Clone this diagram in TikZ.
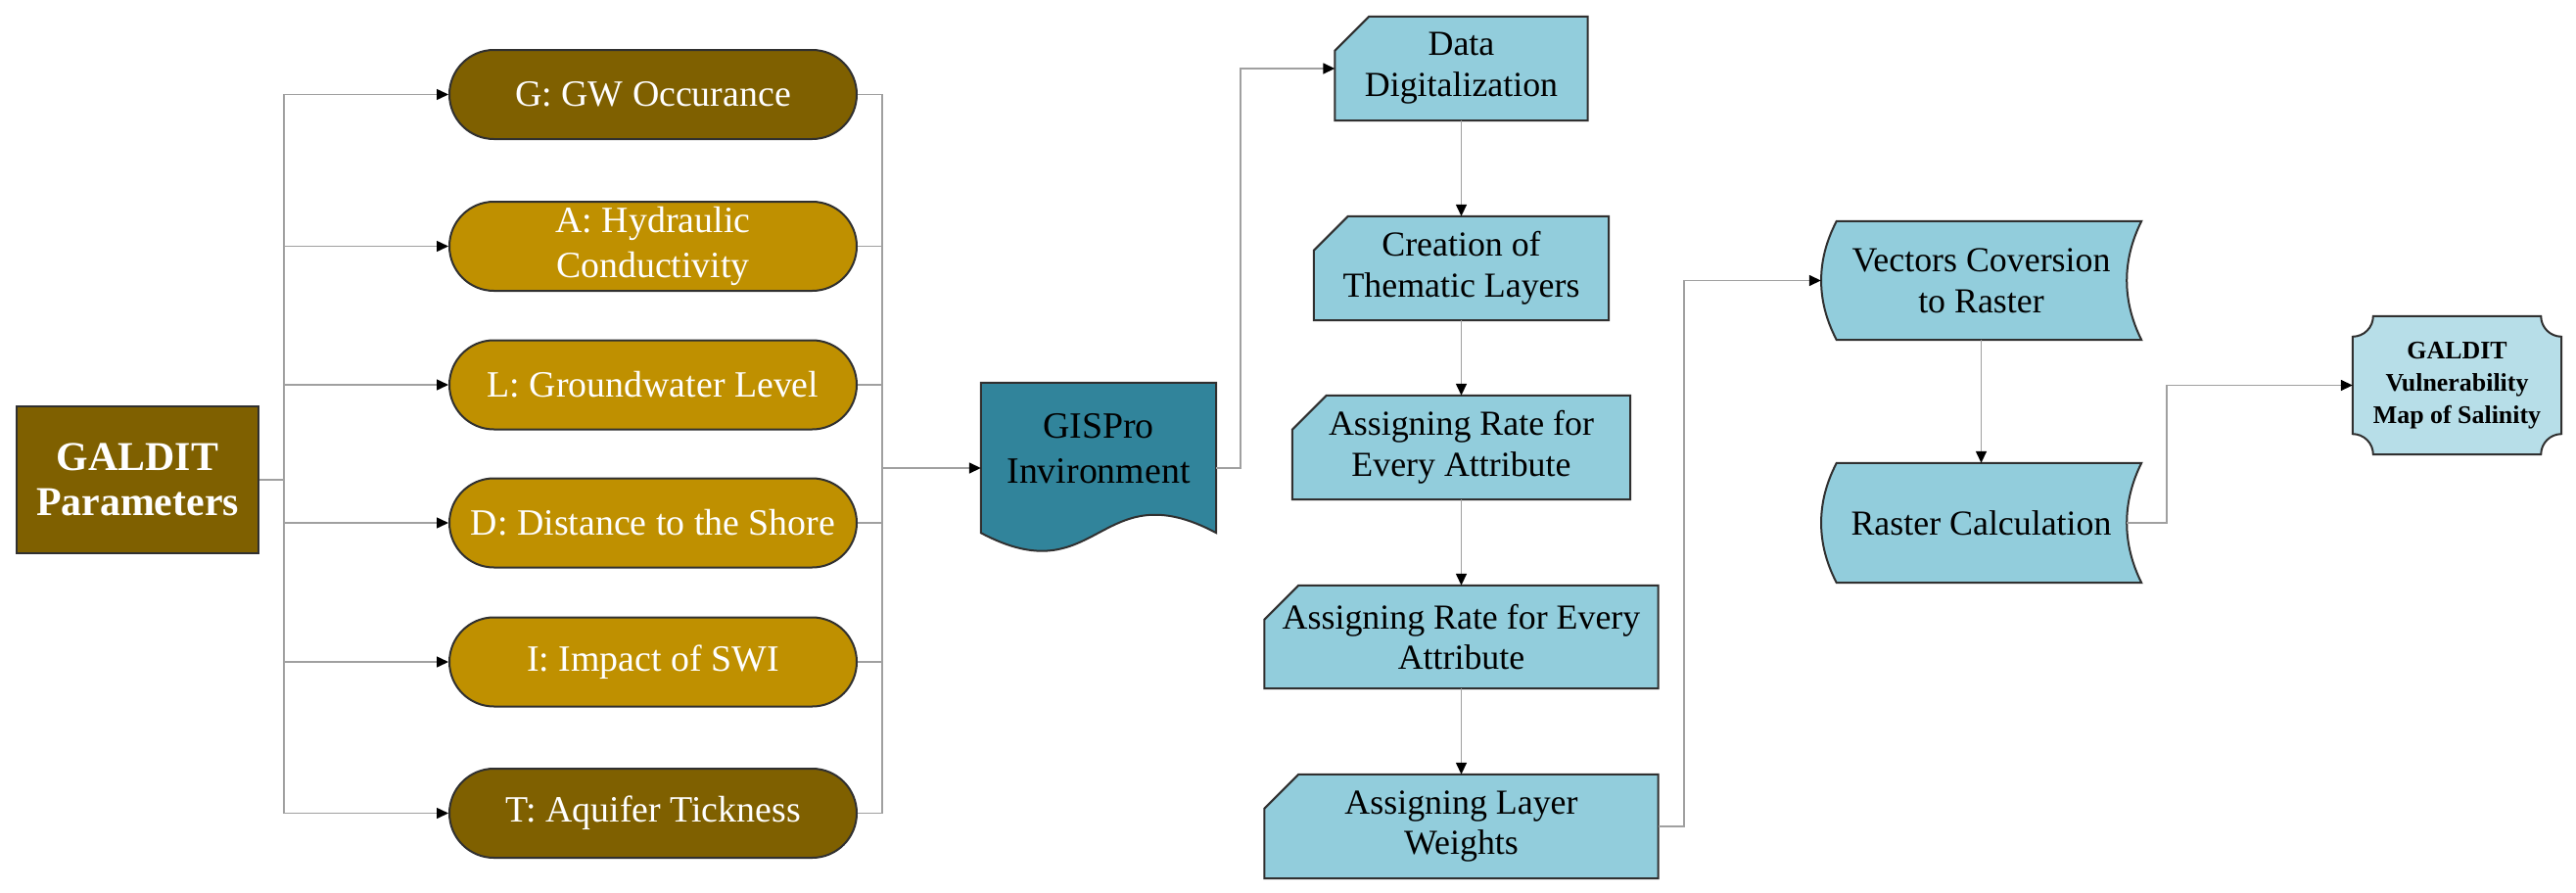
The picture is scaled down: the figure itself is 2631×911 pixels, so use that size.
\documentclass[tikz,border=0pt]{standalone}
\usepackage{fontspec}
\setmainfont{LiberationSerif}[Extension=.ttf,UprightFont=*-Regular,BoldFont=*-Bold,ItalicFont=*-Italic,BoldItalicFont=*-BoldItalic]
\usetikzlibrary{arrows.meta}
\pgfdeclarelayer{bg}
\pgfsetlayers{bg,main}
\definecolor{dbrown}{HTML}{7F6000}
\definecolor{gold}{HTML}{BF9000}
\definecolor{lblue}{HTML}{92CDDC}
\definecolor{tealbox}{HTML}{31849B}
\definecolor{pblue}{HTML}{B7DEE8}
\definecolor{lgray}{HTML}{A0A0A0}
\definecolor{edgec}{HTML}{303030}
\newcommand\chamf[1]{\path[outline, fill=lblue] ([yshift=-35bp]#1.north west) -- ([xshift=35bp]#1.north west) -- (#1.north east) -- (#1.south east) -- (#1.south west) -- cycle;}
\newcommand\stored[1]{\path[outline, fill=lblue] ([xshift=16bp]#1.north west) -- (#1.north east) .. controls ([xshift=-20bp,yshift=-40bp]#1.north east) and ([xshift=-20bp,yshift=40bp]#1.south east) .. (#1.south east) -- ([xshift=16bp]#1.south west) .. controls ([xshift=-5bp,yshift=40bp]#1.south west) and ([xshift=-5bp,yshift=-40bp]#1.north west) .. cycle;}
\begin{document}
\begin{tikzpicture}[x=1bp,y=-1bp,
  every node/.style={font=\rmfamily},
  pill/.style={rectangle, rounded corners=45.5bp, draw=edgec, line width=2bp, minimum width=416bp, minimum height=91bp, inner sep=0pt, align=center, text=white, font=\rmfamily\fontsize{38}{47}\selectfont},
  darkpill/.style={pill, fill=dbrown},
  goldpill/.style={pill, fill=gold},
  proc/.style={inner sep=0pt, align=center, font=\rmfamily\fontsize{36}{42}\selectfont, minimum height=106bp},
  outline/.style={draw=edgec, line width=2bp},
  conn/.style={draw=lgray, line width=1.5bp},
  arr/.style={conn, -{Triangle[length=12bp,width=11bp,color=black]}},
]
\useasboundingbox (0,0) rectangle (2631,911);

% left part
\node[rectangle, draw=edgec, line width=2bp, fill=dbrown, minimum width=247bp, minimum height=150bp, inner sep=0pt, text=white, align=center, font=\rmfamily\bfseries\fontsize{42}{46}\selectfont] (gp) at (140.5,490) {GALDIT\\Parameters};

\node[darkpill] (G) at (667,96.5) {G: GW Occurance};
\node[goldpill] (A) at (667,251.5) {A: Hydraulic\\Conductivity};
\node[goldpill] (L) at (667,393) {L: Groundwater Level};
\node[goldpill] (D) at (667,534) {D: Distance to the Shore};
\node[goldpill] (I) at (667,676) {I: Impact of SWI};
\node[darkpill] (T) at (667,830.5) {T: Aquifer Tickness};

% GISPro
\node[minimum width=240bp, minimum height=174bp, inner sep=0pt] (gis) at (1122,478) {};
\node[align=center, inner sep=0pt, font=\rmfamily\fontsize{38}{46}\selectfont] (gistext) at (1122,458) {GISPro\\Invironment};

% process column
\node[proc, minimum width=258bp] (dd) at (1492.5,70) {Data\\Digitalization};
\node[proc, minimum width=301bp] (ct) at (1492.5,274) {Creation of\\Thematic Layers};
\node[proc, minimum width=345bp] (ar1) at (1492.5,457) {Assigning Rate for\\Every Attribute};
\node[proc, minimum width=402bp, minimum height=105bp] (ar2) at (1492.5,650.5) {Assigning Rate for Every\\Attribute};
\node[proc, minimum width=402bp] (lw) at (1492.5,844) {Assigning Layer\\Weights};

% stored data
\node[proc, minimum width=327bp, minimum height=121bp] (vc) at (2023.5,286.5) {Vectors Coversion\\to Raster};
\node[proc, minimum width=327bp, minimum height=122bp] (rc) at (2023.5,534) {Raster Calculation};

% final
\node[inner sep=0pt, minimum width=213bp, minimum height=141bp, align=center, font=\rmfamily\bfseries\fontsize{26}{33}\selectfont] (fin) at (2509.5,393.5) {GALDIT\\Vulnerability\\Map of Salinity};

\begin{pgfonlayer}{bg}
  \fill[white] (0,0) rectangle (2631,911);
  \chamf{dd}
  \chamf{ct}
  \chamf{ar1}
  \chamf{ar2}
  \chamf{lw}
  \stored{vc}
  \stored{rc}
  \path[outline, fill=tealbox] (gis.north west) -- (gis.north east) -- ([yshift=21bp]gis.south east)
    .. controls ([yshift=85bp]gis.south) and ([yshift=-43bp]gis.south) .. ([yshift=21bp]gis.south west) -- cycle;
  \path[outline, fill=pblue] ([xshift=21bp]fin.north west) -- ([xshift=-21bp]fin.north east)
    .. controls ([xshift=-21bp,yshift=-11.6bp]fin.north east) and ([xshift=-11.6bp,yshift=-21bp]fin.north east) .. ([yshift=-21bp]fin.north east)
    -- ([yshift=21bp]fin.south east)
    .. controls ([xshift=-11.6bp,yshift=21bp]fin.south east) and ([xshift=-21bp,yshift=11.6bp]fin.south east) .. ([xshift=-21bp]fin.south east)
    -- ([xshift=21bp]fin.south west)
    .. controls ([xshift=21bp,yshift=11.6bp]fin.south west) and ([xshift=11.6bp,yshift=21bp]fin.south west) .. ([yshift=21bp]fin.south west)
    -- ([yshift=-21bp]fin.north west)
    .. controls ([xshift=11.6bp,yshift=-21bp]fin.north west) and ([xshift=21bp,yshift=-11.6bp]fin.north west) .. cycle;
\end{pgfonlayer}

% connectors
\coordinate (lt) at (290,490);
\coordinate (rt) at (901,478);
\coordinate (gx) at (1267,478);
\coordinate (lx) at (1720,844);
\coordinate (rx) at (2213,534);

\foreach \n in {G,A,L,D,I,T} {\draw[arr] (gp.east) -- (lt) |- (\n.west);}
\foreach \n in {G,A,L,D,I,T} {\draw[conn] (\n.east) -| (rt);}
\draw[arr] (rt) -- (gis.west);
\draw[arr] (gis.east) -- (gx) |- (dd.west);
\draw[arr] (dd.south) -- (ct.north);
\draw[arr] (ct.south) -- (ar1.north);
\draw[arr] (ar1.south) -- (ar2.north);
\draw[arr] (ar2.south) -- (lw.north);
\draw[arr] (lw.east) -- (lx) |- (vc.west);
\draw[arr] (vc.south) -- (rc.north);
\draw[arr] ([xshift=-15bp]rc.east) -- (rx) |- (fin.west);
\end{tikzpicture}
\end{document}
